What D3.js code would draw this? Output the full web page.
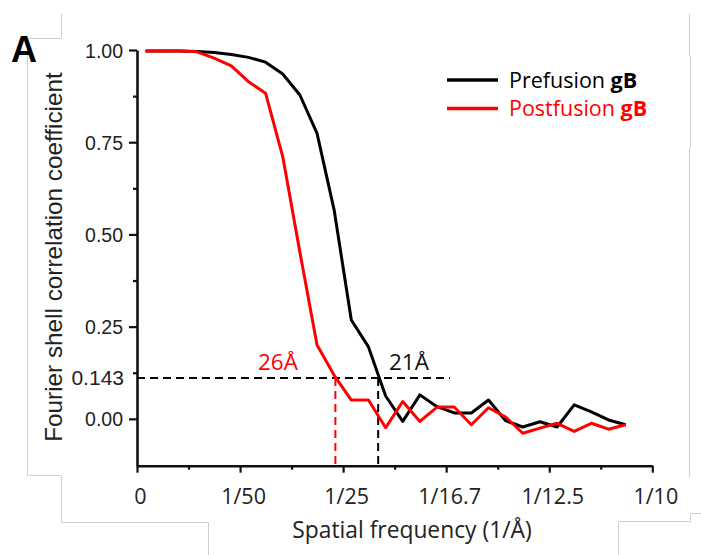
<!DOCTYPE html>
<html>
<head>
<meta charset="utf-8">
<script src="https://cdn.jsdelivr.net/npm/d3@7"></script>
<style>
  body { margin: 0; background: #fff; }
  svg { display: block; }
</style>
</head>
<body>
<svg id="chart" width="701" height="555"></svg>
<script>
// spatial frequency of each shell (1/A)
var freq = [0.00166, 0.00499, 0.00832, 0.01164, 0.01497, 0.01830, 0.02163, 0.02495, 0.02828, 0.03161,
            0.03494, 0.03826, 0.04159, 0.04492, 0.04825, 0.05157, 0.05490, 0.05823, 0.06156, 0.06488,
            0.06821, 0.07154, 0.07487, 0.07819, 0.08152, 0.08485, 0.08818, 0.09150, 0.09483];
var prefusion = [0.997, 0.997, 0.997, 0.996, 0.993, 0.988, 0.980, 0.967, 0.935, 0.878,
                 0.774, 0.566, 0.268, 0.195, 0.062, -0.007, 0.065, 0.033, 0.016, 0.016,
                 0.051, -0.005, -0.022, -0.008, -0.022, 0.038, 0.019, -0.003, -0.016];
var postfusion = [0.997, 0.997, 0.997, 0.995, 0.978, 0.957, 0.914, 0.883, 0.711, 0.452,
                  0.200, 0.118, 0.051, 0.051, -0.024, 0.047, -0.007, 0.032, 0.032, -0.016,
                  0.030, 0.005, -0.039, -0.025, -0.012, -0.034, -0.012, -0.028, -0.016];

var yTicks = [0, 0.25, 0.5, 0.75, 1];
var yMinor = [0.125, 0.375, 0.625, 0.875];
var xTicks = [0, 0.02, 0.04, 0.06, 0.08, 0.1];
var xTickLabels = ["0", "1/50", "1/25", "1/16.7", "1/12.5", "1/10"];
var xMinor = [0.01, 0.03, 0.05, 0.07, 0.09];

// threshold line (as drawn in the figure) and the crossings
var threshY = 0.111;
var threshLabel = "0.143";
var threshEnd = 0.0607;
var cutoffs = [0.0385, 0.0468];
var cutoffLabels = ["26Å", "21Å"];
var seriesNames = ["Prefusion", "Postfusion"];
var seriesColors = ["#000000", "#ff0000"];

var arial = "'Liberation Sans', Arial, sans-serif";
var calib = "'Open Sans', 'Noto Sans', sans-serif";

var svg = d3.select("#chart");

var x = d3.scaleLinear().domain([0, 0.1]).range([137, 652.3]);
var y = d3.scaleLinear().domain([-0.127, 1]).range([465.7, 50]);

// faint border lines left from the cropped figure
var border = svg.append("g").attr("fill", "none").attr("stroke", "#cfcfcf").attr("stroke-width", 1);
border.append("path").attr("d", "M61.5,14V38.5H27.5V475.5H61.5V522.5H208.5V555");
border.append("path").attr("d", "M689.5,14V56.5M690.5,56.5V147.5M689.5,147.5V477");
border.append("path").attr("d", "M701,513.5H690.5V521.5H618.5V555");

// y axis
var yAxis = svg.append("g").attr("transform", "translate(" + x(0) + ",0)")
    .call(d3.axisLeft(y).tickValues(yTicks).tickFormat(d3.format(".2f")).tickSize(8).tickSizeOuter(0).tickPadding(6));
svg.append("g").attr("transform", "translate(" + x(0) + ",0)")
    .call(d3.axisLeft(y).tickValues(yMinor).tickFormat("").tickSize(4).tickSizeOuter(0))
    .select(".domain").remove();

// x axis
var xAxis = svg.append("g").attr("transform", "translate(0," + y.range()[0] + ")")
    .call(d3.axisBottom(x).tickValues(xTicks).tickFormat(function(d, i){ return xTickLabels[i]; })
          .tickSize(7).tickSizeOuter(0));
svg.append("g").attr("transform", "translate(0," + y.range()[0] + ")")
    .call(d3.axisBottom(x).tickValues(xMinor).tickFormat("").tickSize(4).tickSizeOuter(0))
    .select(".domain").remove();

svg.selectAll(".domain").attr("stroke", "#111").attr("stroke-width", 2.6);
svg.selectAll(".tick line").attr("stroke", "#111").attr("stroke-width", 2.2);

yAxis.selectAll("text").attr("font-family", arial).attr("font-size", 19.5).attr("fill", "#222")
    .attr("x", -14).attr("dy", "0.36em");
xAxis.selectAll("text").attr("font-family", calib).attr("font-size", 21.5).attr("fill", "#222")
    .attr("y", 38).attr("dy", 0).attr("dx", 3);

// threshold label
svg.append("text").attr("x", 124).attr("y", y(threshY)).attr("dy", "0.36em")
    .attr("text-anchor", "end").attr("font-family", arial).attr("font-size", 21).attr("fill", "#222")
    .text(threshLabel);

// dashed lines
svg.append("line").attr("x1", x(0)).attr("x2", x(threshEnd)).attr("y1", y(threshY)).attr("y2", y(threshY))
    .attr("stroke", "#000").attr("stroke-width", 2).attr("stroke-dasharray", "8,5");
cutoffs.forEach(function(c, i){
    svg.append("line").attr("x1", x(c)).attr("x2", x(c)).attr("y1", y(threshY)).attr("y2", y.range()[0])
        .attr("stroke", i == 0 ? "#ff0000" : "#000").attr("stroke-width", 2).attr("stroke-dasharray", "8,5");
});

// curves
var line = d3.line().x(function(d, i){ return x(freq[i]); }).y(function(d){ return y(d); });
[prefusion, postfusion].forEach(function(s, i){
    svg.append("path").datum(s).attr("d", line).attr("fill", "none")
        .attr("stroke", seriesColors[i]).attr("stroke-width", 3).attr("stroke-linejoin", "round");
});

// resolution labels
svg.append("text").attr("x", 258).attr("y", 370).attr("font-family", calib).attr("font-size", 22.5)
    .attr("fill", "#ff0000").text(cutoffLabels[0]);
svg.append("text").attr("x", 389).attr("y", 370).attr("font-family", calib).attr("font-size", 22.5)
    .attr("fill", "#111").text(cutoffLabels[1]);

// legend
seriesNames.forEach(function(name, i){
    var ly = 80 + i * 28.5;
    svg.append("line").attr("x1", 447).attr("x2", 498).attr("y1", ly).attr("y2", ly)
        .attr("stroke", seriesColors[i]).attr("stroke-width", 3.5);
    var t = svg.append("text").attr("x", 509).attr("y", ly + 7.5).attr("font-family", calib)
        .attr("font-size", 21.5).attr("fill", seriesColors[i]);
    t.append("tspan").text(name + " ");
    t.append("tspan").attr("font-weight", "bold").text("gB");
});

// axis titles
svg.append("text").attr("transform", "translate(62,257) rotate(-90)").attr("text-anchor", "middle")
    .attr("font-family", arial).attr("font-size", 24.3).attr("fill", "#222")
    .text("Fourier shell correlation coefficient");
svg.append("text").attr("x", 412).attr("y", 538).attr("text-anchor", "middle")
    .attr("font-family", calib).attr("font-size", 22.8).attr("fill", "#222")
    .text("Spatial frequency (1/Å)");

// panel letter
svg.append("text").attr("x", 11).attr("y", 62).attr("font-family", arial).attr("font-weight", "bold")
    .attr("font-size", 36).attr("fill", "#000").text("A");
</script>
</body>
</html>
